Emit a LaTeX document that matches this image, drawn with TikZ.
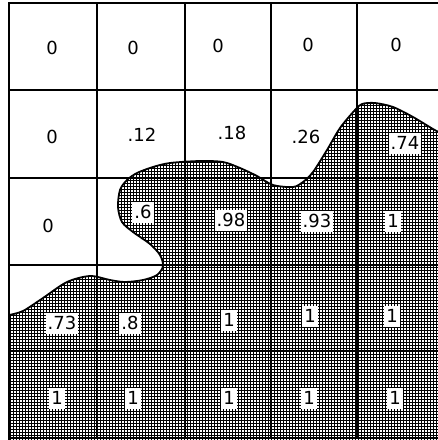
\documentclass[tikz,border=0pt]{standalone}
\usepackage{fontspec}
\setmainfont{DejaVu Sans}
\usetikzlibrary{patterns.meta}
\tikzdeclarepattern{
  name=stipple, type=uncolored,
  bottom left={(-.5pt,-.5pt)}, top right={(3.5pt,3.5pt)},
  tile size={(3pt,3pt)},
  code={\draw[line width=1.1pt] (-.5pt,1.5pt) -- (3.5pt,1.5pt) (1.5pt,-.5pt) -- (1.5pt,3.5pt);}
}
\tikzset{
  gridline/.style={line width=2.8pt, line cap=rect},
  region/.style={draw=black, line width=1.8pt, pattern=stipple, pattern color=black},
  val/.style={font=\fontsize{18}{20}\selectfont, inner sep=1pt},
  boxval/.style={val, fill=white, inner xsep=2pt, inner ysep=4pt, text height=13pt, text depth=0pt}
}
\begin{document}
\begin{tikzpicture}[x=1pt, y=-1pt]
\useasboundingbox (0,0) rectangle (438,440);
% shaded part below the boundary
\draw[region] plot[smooth] coordinates {(9,315) (23,311) (43,298) (67,282) (90,276) (110,280) (125,282) (143,280) (157,275) (163,266) (160,255) (150,244) (133,232) (122,222) (118,207) (120,190) (127,180) (137,173) (153,167) (170,163) (200,161) (223,162) (240,168) (257,176) (273,185) (293,187) (303,182) (313,172) (327,150) (340,128) (355,110) (362,104) (375,103) (393,107) (413,117) (433,129) (446,136)} -- (446,446) -- (9,446) -- cycle;
% grid
\draw[gridline] (9,3) -- (446,3);
\draw[gridline] (9,90) -- (446,90);
\draw[gridline] (9,178) -- (446,178);
\draw[gridline] (9,265) -- (446,265);
\draw[gridline] (9,351) -- (446,351);
\draw[gridline] (9,438) -- (446,438);
\draw[gridline] (9,3) -- (9,438);
\draw[gridline] (97,3) -- (97,438);
\draw[gridline] (185,3) -- (185,438);
\draw[gridline] (271,3) -- (271,438);
\draw[gridline] (357,3) -- (357,438);
% values
\node[val] (a1) at (52,48) {0};
\node[val] (a2) at (133,48) {0};
\node[val] (a3) at (218,46) {0};
\node[val] (a4) at (308,45) {0};
\node[val] (a5) at (396,45) {0};
\node[val] (b1) at (52,137) {0};
\node[val] (b2) at (142,135) {.12};
\node[val] (b3) at (232,133) {.18};
\node[val] (b4) at (306,137) {.26};
\node[boxval] (b5) at (405,143) {.74};
\node[val] (c1) at (48,226) {0};
\node[boxval] (c2) at (143,212) {.6};
\node[boxval] (c3) at (231,220) {.98};
\node[boxval] (c4) at (317,221) {.93};
\node[boxval] (c5) at (393,221) {1};
\node[boxval] (d1) at (62,323) {.73};
\node[boxval] (d2) at (130,323) {.8};
\node[boxval] (d3) at (229,320) {1};
\node[boxval] (d4) at (310,316) {1};
\node[boxval] (d5) at (392,316) {1};
\node[boxval] (e1) at (57,398) {1};
\node[boxval] (e2) at (133,398) {1};
\node[boxval] (e3) at (229,398) {1};
\node[boxval] (e4) at (309,398) {1};
\node[boxval] (e5) at (395,398) {1};
\end{tikzpicture}
\end{document}
